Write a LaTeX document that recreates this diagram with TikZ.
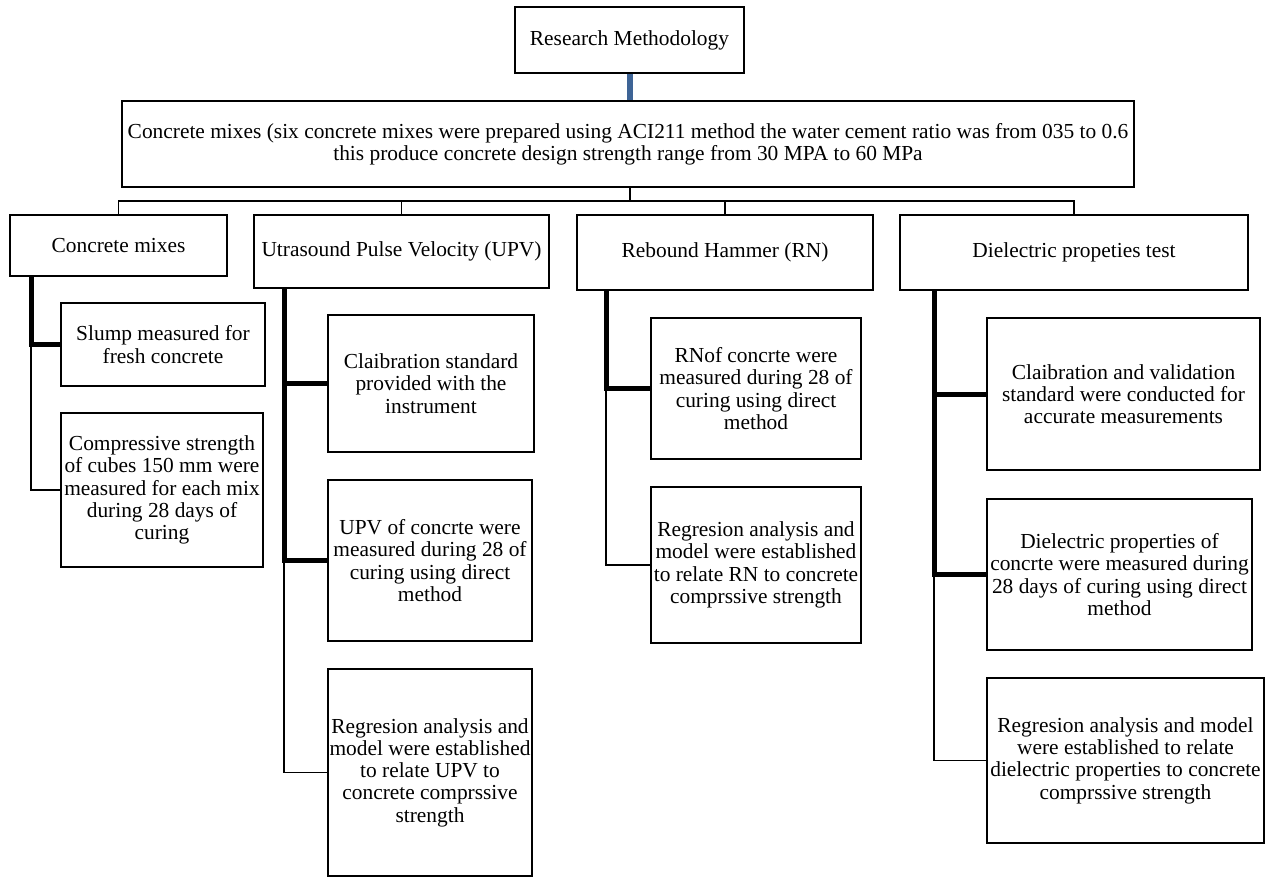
\documentclass[tikz,border=0pt]{standalone}
\usepackage{fontspec}
\setmainfont{Liberation Serif}
\definecolor{accentblue}{RGB}{62,100,150}
\begin{document}
\begin{tikzpicture}[x=1pt,y=-1pt,
  box/.style={draw=black, line width=1.7pt, inner sep=0pt, align=center,
    font=\fontsize{21.4}{22.3}\selectfont},
  conn/.style={draw=black, line width=1.9pt},
  heavy/.style={draw=black, line width=5pt},
  blueline/.style={draw=accentblue, line width=5.5pt}]
\useasboundingbox (0,0) rectangle (1266,879);
\fill[white] (0,0) rectangle (1266,879);

% level 0 and 1
\node[box, minimum width=229pt, minimum height=66pt] (rm) at (629.5,40) {Research Methodology};
\node[box, minimum width=1012pt, minimum height=86pt] (cm) at (628,144)
  {Concrete mixes (six concrete mixes were prepared using ACI211 method the water cement ratio was from 035 to 0.6\\
   this produce concrete design strength range from 30 MPA to 60 MPa};

% level 2
\node[box, minimum width=217pt, minimum height=61pt] (c1) at (118.5,245.5) {Concrete mixes};
\node[box, minimum width=295pt, minimum height=73pt] (c2) at (401.5,251.5) {Utrasound Pulse Velocity (UPV)};
\node[box, minimum width=296pt, minimum height=75pt] (c3) at (725,252.5) {Rebound Hammer (RN)};
\node[box, minimum width=348pt, minimum height=75pt] (c4) at (1074,252.5) {Dielectric propeties test};

% concrete mixes children
\node[box, minimum width=204pt, minimum height=83pt] (slump) at (163,344.5) {Slump measured for\\fresh concrete};
\node[box, minimum width=202pt, minimum height=154pt] (comp) at (162,490)
  {Compressive strength\\of cubes 150 mm were\\measured for each mix\\during 28 days of\\curing};

% UPV children
\node[box, minimum width=206pt, minimum height=137pt] (u1) at (431,383.5)
  {Claibration standard\\provided with the\\instrument};
\node[box, minimum width=204pt, minimum height=161pt] (u2) at (430,560.5)
  {UPV of concrte were\\measured during 28 of\\curing using direct\\method};
\node[box, minimum width=204pt, minimum height=207pt] (u3) at (430,772.5)
  {Regresion analysis and\\model were established\\to relate UPV to\\concrete comprssive\\strength};

% RN children
\node[box, minimum width=210pt, minimum height=141pt] (r1) at (756,388.5)
  {RNof concrte were\\measured during 28 of\\curing using direct\\method};
\node[box, minimum width=210pt, minimum height=156pt] (r2) at (756,565)
  {Regresion analysis and\\model were established\\to relate RN to concrete\\comprssive strength};

% dielectric children
\node[box, minimum width=273pt, minimum height=152pt] (d1) at (1123.5,394)
  {Claibration and validation\\standard were conducted for\\accurate measurements};
\node[box, minimum width=265pt, minimum height=151pt] (d2) at (1119.5,574.5)
  {Dielectric properties of\\concrte were measured during\\28 days of curing using direct\\method};
\node[box, minimum width=277pt, minimum height=165pt] (d3) at (1125.5,760.5)
  {Regresion analysis and model\\were established to relate\\dielectric properties to concrete\\comprssive strength};

% top connectors
\coordinate (bus) at (630,201);
\draw[blueline] (bus |- rm.south) -- (bus |- cm.north);
\draw[conn] (bus |- cm.south) -- (bus);
\draw[conn] (c1.north) |- (bus) -| (c4.north);
\draw[conn] (c2.north) -- (c2.north |- bus);
\draw[conn] (c3.north) -- (c3.north |- bus);

% concrete mixes trunk
\coordinate (t1) at ([xshift=22pt]c1.south west);
\draw[heavy] (t1) |- (slump.west);
\draw[conn] (t1 |- slump.west) |- (comp.west);

% UPV trunk
\coordinate (t2) at ([xshift=31pt]c2.south west);
\draw[heavy] (t2) |- (u1.west);
\draw[heavy] (t2) |- (u2.west);
\draw[conn] (t2 |- u2.west) |- (u3.west);

% RN trunk
\coordinate (t3) at ([xshift=30pt]c3.south west);
\draw[heavy] (t3) |- (r1.west);
\draw[conn] (t3 |- r1.west) |- (r2.west);

% dielectric trunk
\coordinate (t4) at ([xshift=35pt]c4.south west);
\draw[heavy] (t4) |- (d1.west);
\draw[heavy] (t4) |- (d2.west);
\draw[conn] (t4 |- d2.west) |- (d3.west);
\end{tikzpicture}
\end{document}
